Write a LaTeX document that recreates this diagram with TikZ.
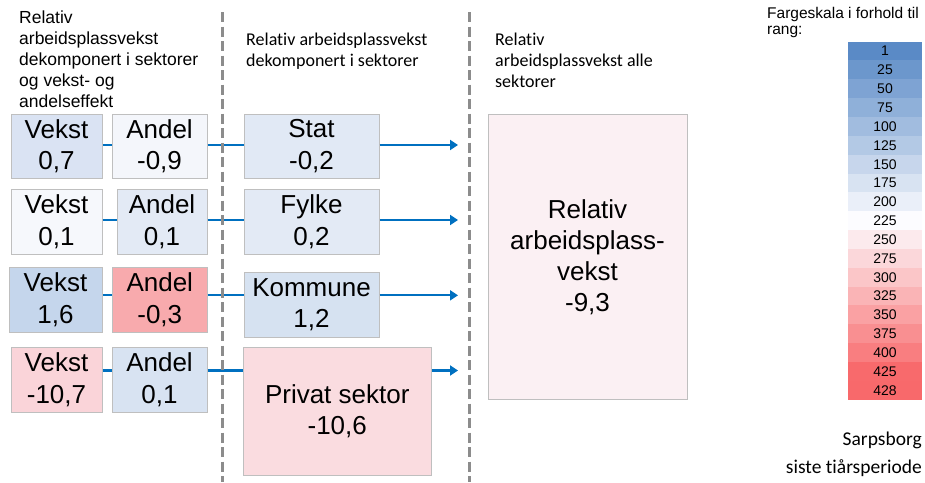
\documentclass[tikz,border=0pt]{standalone}
\usepackage{xcolor}
\usepackage{tikz}
\usepackage{fontspec}
\setmainfont{Liberation Sans}
\newfontfamily\calibri[Ligatures=NoCommon]{Carlito}
\usetikzlibrary{positioning,calc,arrows.meta}

\definecolor{linkblue}{RGB}{0,112,192}
\definecolor{dashgrey}{RGB}{140,140,140}
\definecolor{boxgrey}{RGB}{191,191,191}
\definecolor{scalelo}{RGB}{90,138,198}
\definecolor{scalemid}{RGB}{252,252,255}
\definecolor{scalehi}{RGB}{248,105,107}

\begin{document}
\begin{tikzpicture}[x=1pt,y=-1pt,
        valbox/.style={draw=boxgrey, line width=1pt, inner sep=0pt, align=center,
            font=\fontsize{26}{31.5}\selectfont},
        link/.style={linkblue, line width=2.2pt},
        divider/.style={dashgrey, line width=3pt, dash pattern=on 10pt off 4.5pt},
        scalecell/.style={inner sep=0pt, minimum width=74pt, minimum height=19.1pt,
            font=\fontsize{14}{14}\selectfont}]
        \useasboundingbox (0,0) rectangle (925,482);

        % Headers
        \node[anchor=north west, align=left, inner sep=0pt, font=\fontsize{17.5}{20.8}\selectfont]
            (headLeft) at (19,11) {Relativ\\arbeidsplassvekst\\dekomponert i sektorer\\og vekst- og\\andelseffekt};
        \node[anchor=north west, align=left, inner sep=0pt, font=\calibri\fontsize{18}{21}\selectfont]
            (headMid) at (246,33) {Relativ arbeidsplassvekst\\dekomponert i sektorer};
        \node[anchor=north west, align=left, inner sep=0pt, font=\calibri\fontsize{18}{21}\selectfont]
            (headRight) at (495,33) {Relativ\\arbeidsplassvekst alle\\sektorer};

        % Vekst and Andel
        \node[valbox, fill={rgb,255:red,218;green,227;blue,243}, minimum width=91pt, minimum height=64pt] (vekstA) at (56.5,146) {Vekst\\0,7};
        \node[valbox, fill={rgb,255:red,244;green,246;blue,251}, minimum width=95pt, minimum height=64pt] (andelA) at (159.5,146) {Andel\\-0,9};
        \node[valbox, fill={rgb,255:red,246;green,248;blue,252}, minimum width=91pt, minimum height=65pt] (vekstB) at (56.5,221.5) {Vekst\\0,1};
        \node[valbox, fill={rgb,255:red,227;green,234;blue,245}, minimum width=90pt, minimum height=65pt] (andelB) at (162,221.5) {Andel\\0,1};
        \node[valbox, fill={rgb,255:red,197;green,214;blue,236}, minimum width=93pt, minimum height=65pt] (vekstC) at (55.5,299.5) {Vekst\\1,6};
        \node[valbox, fill={rgb,255:red,248;green,170;blue,173}, minimum width=94.5pt, minimum height=65pt] (andelC) at (159.75,299.5) {Andel\\-0,3};
        \node[valbox, fill={rgb,255:red,250;green,212;blue,217}, minimum width=91pt, minimum height=65pt] (vekstD) at (56.5,379.5) {Vekst\\-10,7};
        \node[valbox, fill={rgb,255:red,216;green,227;blue,242}, minimum width=95pt, minimum height=65pt] (andelD) at (159.5,379.5) {Andel\\0,1};

        % Sectors
        \node[valbox, fill={rgb,255:red,225;green,233;blue,245}, minimum width=135pt, minimum height=64pt] (stat) at (311.5,146) {Stat\\-0,2};
        \node[valbox, fill={rgb,255:red,227;green,234;blue,245}, minimum width=135pt, minimum height=65pt] (fylke) at (311.5,221.5) {Fylke\\0,2};
        \node[valbox, fill={rgb,255:red,214;green,226;blue,241}, minimum width=135pt, minimum height=65pt] (kommune) at (311.5,304.5) {Kommune\\1,2};
        \node[valbox, fill={rgb,255:red,250;green,220;blue,224}, minimum width=188.5pt, minimum height=128pt] (privat) at (337.25,411) {Privat sektor\\-10,6};

        % Total
        \node[valbox, fill={rgb,255:red,251;green,240;blue,243}, minimum width=199pt, minimum height=285.5pt,
            font=\fontsize{26}{31}\selectfont] (total) at (587.5,256.75) {Relativ\\arbeidsplass-\\vekst\\-9,3};

        % Connectors
        \foreach \r/\ly/\sec in {A/145/stat, B/220/fylke, C/295.3/kommune, D/370.5/privat} {
            \coordinate (row\r) at (0,\ly);
            \coordinate (tip\r) at (458,\ly);
            \draw[link] (vekst\r.east |- row\r) -- (andel\r.west |- row\r);
            \draw[link] (andel\r.east |- row\r) -- (\sec.west |- row\r);
            \draw[link, -{Triangle[length=8pt,width=10pt]}] (\sec.east |- row\r) -- (tip\r);
        }

        % Dividers
        \draw[divider] (222.7,12) -- (222.7,482);
        \draw[divider] (469,12) -- (469,482);

        % Colour scale
        \node[anchor=north west, align=left, inner sep=0pt, font=\fontsize{15.5}{16}\selectfont]
            (scaleTitle) at (767,7.5) {Fargeskala i forhold til\\rang:};
        \foreach \v [count=\i from 0] in {1,25,50,75,100,125,150,175,200,225,250,275,300,325,350,375,400,425,428} {
            \ifnum\v<225
                \pgfmathtruncatemacro{\p}{round((\v-1)/224*100)}
                \colorlet{cellfill}{scalemid!\p!scalelo}
            \else
                \pgfmathtruncatemacro{\p}{round((\v-225)/203*100)}
                \colorlet{cellfill}{scalehi!\p!scalemid}
            \fi
            \node[scalecell, fill=cellfill] (rank\v) at (885,51.1+\i*18.85) {\v};
        }

        \node[anchor=north east, align=right, inner sep=0pt, font=\calibri\fontsize{19.5}{28}\selectfont]
            (place) at (922,432) {Sarpsborg\\siste tiårsperiode};
    \end{tikzpicture}
\end{document}
